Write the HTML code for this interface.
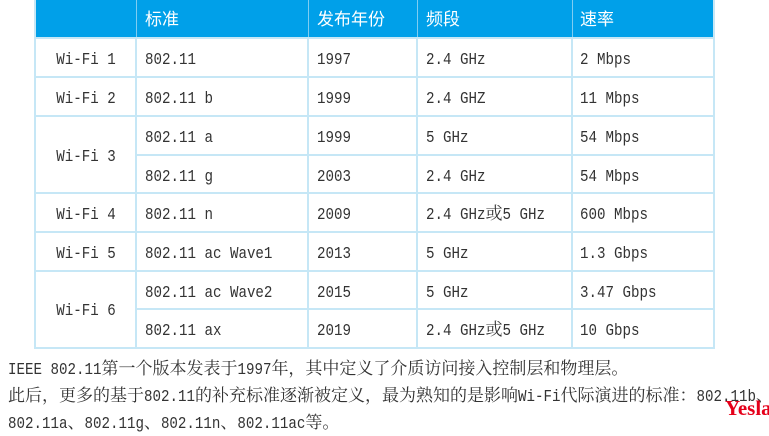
<!DOCTYPE html>
<html><head><meta charset="utf-8">
<style>
html,body{margin:0;padding:0;background:#fff;}
body{width:769px;height:432px;position:relative;overflow:hidden;}
.hd{position:absolute;top:0;height:38px;background:#00A0E9;}
.ht{position:absolute;top:1px;height:38px;line-height:38px;color:#fff;font-family:"Liberation Sans","Noto Sans CJK SC",sans-serif;font-size:17px;white-space:nowrap;}
.v{position:absolute;width:2px;background:#C6E7F6;}
.hv{position:absolute;width:1px;background:#7FCDF2;top:0;height:38px;}
.h{position:absolute;height:2px;background:#C6E7F6;}
.c{position:absolute;height:38px;line-height:38px;color:#333;white-space:nowrap;font-family:"Liberation Sans","Noto Serif CJK SC",serif;font-size:17px;}
.m{display:inline-block;font-family:"Liberation Mono",monospace;font-size:14.17px;line-height:1;transform:scaleY(1.2);transform-origin:50% 77%;white-space:pre;}
.p{position:absolute;left:8px;height:27px;line-height:27px;color:#333;white-space:nowrap;font-family:"Liberation Serif","Noto Serif CJK SC",serif;font-size:17px;}
.wm{position:absolute;left:725px;top:396px;font-family:"Liberation Serif",serif;font-weight:bold;font-size:21px;color:#E5001A;}
</style></head><body>

<!-- header -->
<div class="hd" style="left:35px;width:680px;"></div>
<div class="hv" style="left:136px;"></div>
<div class="hv" style="left:308px;"></div>
<div class="hv" style="left:417px;"></div>
<div class="hv" style="left:572px;"></div>
<div class="ht" style="left:145px;">标准</div>
<div class="ht" style="left:317px;">发布年份</div>
<div class="ht" style="left:426px;">频段</div>
<div class="ht" style="left:580px;">速率</div>

<!-- vertical lines -->
<div class="v" style="left:34px;top:0;height:349px;"></div>
<div class="v" style="left:135px;top:38px;height:311px;"></div>
<div class="v" style="left:307px;top:38px;height:311px;"></div>
<div class="v" style="left:416px;top:38px;height:311px;"></div>
<div class="v" style="left:571px;top:38px;height:311px;"></div>
<div class="v" style="left:713px;top:0;height:349px;"></div>

<!-- horizontal lines -->
<div class="h" style="left:35px;width:680px;top:37px;"></div>
<div class="h" style="left:35px;width:680px;top:76px;"></div>
<div class="h" style="left:35px;width:680px;top:115px;"></div>
<div class="h" style="left:136px;width:579px;top:154px;"></div>
<div class="h" style="left:35px;width:680px;top:192px;"></div>
<div class="h" style="left:35px;width:680px;top:231px;"></div>
<div class="h" style="left:35px;width:680px;top:270px;"></div>
<div class="h" style="left:136px;width:579px;top:308px;"></div>
<div class="h" style="left:35px;width:680px;top:347px;"></div>

<!-- column 1 -->
<div class="c" style="left:36px;width:100px;text-align:center;top:40px;"><span class="m">Wi-Fi 1</span></div>
<div class="c" style="left:36px;width:100px;text-align:center;top:79px;"><span class="m">Wi-Fi 2</span></div>
<div class="c" style="left:36px;width:100px;text-align:center;top:137px;"><span class="m">Wi-Fi 3</span></div>
<div class="c" style="left:36px;width:100px;text-align:center;top:195px;"><span class="m">Wi-Fi 4</span></div>
<div class="c" style="left:36px;width:100px;text-align:center;top:234px;"><span class="m">Wi-Fi 5</span></div>
<div class="c" style="left:36px;width:100px;text-align:center;top:291px;"><span class="m">Wi-Fi 6</span></div>

<!-- column 2 -->
<div class="c" style="left:145px;top:40px;"><span class="m">802.11</span></div>
<div class="c" style="left:145px;top:79px;"><span class="m">802.11 b</span></div>
<div class="c" style="left:145px;top:118px;"><span class="m">802.11 a</span></div>
<div class="c" style="left:145px;top:157px;"><span class="m">802.11 g</span></div>
<div class="c" style="left:145px;top:195px;"><span class="m">802.11 n</span></div>
<div class="c" style="left:145px;top:234px;"><span class="m">802.11 ac Wave1</span></div>
<div class="c" style="left:145px;top:273px;"><span class="m">802.11 ac Wave2</span></div>
<div class="c" style="left:145px;top:311px;"><span class="m">802.11 ax</span></div>

<!-- column 3 -->
<div class="c" style="left:317px;top:40px;"><span class="m">1997</span></div>
<div class="c" style="left:317px;top:79px;"><span class="m">1999</span></div>
<div class="c" style="left:317px;top:118px;"><span class="m">1999</span></div>
<div class="c" style="left:317px;top:157px;"><span class="m">2003</span></div>
<div class="c" style="left:317px;top:195px;"><span class="m">2009</span></div>
<div class="c" style="left:317px;top:234px;"><span class="m">2013</span></div>
<div class="c" style="left:317px;top:273px;"><span class="m">2015</span></div>
<div class="c" style="left:317px;top:311px;"><span class="m">2019</span></div>

<!-- column 4 -->
<div class="c" style="left:426px;top:40px;"><span class="m">2.4 GHz</span></div>
<div class="c" style="left:426px;top:79px;"><span class="m">2.4 GHZ</span></div>
<div class="c" style="left:426px;top:118px;"><span class="m">5 GHz</span></div>
<div class="c" style="left:426px;top:157px;"><span class="m">2.4 GHz</span></div>
<div class="c" style="left:426px;top:195px;"><span class="m">2.4 GHz</span>或<span class="m">5 GHz</span></div>
<div class="c" style="left:426px;top:234px;"><span class="m">5 GHz</span></div>
<div class="c" style="left:426px;top:273px;"><span class="m">5 GHz</span></div>
<div class="c" style="left:426px;top:311px;"><span class="m">2.4 GHz</span>或<span class="m">5 GHz</span></div>

<!-- column 5 -->
<div class="c" style="left:580px;top:40px;"><span class="m">2 Mbps</span></div>
<div class="c" style="left:580px;top:79px;"><span class="m">11 Mbps</span></div>
<div class="c" style="left:580px;top:118px;"><span class="m">54 Mbps</span></div>
<div class="c" style="left:580px;top:157px;"><span class="m">54 Mbps</span></div>
<div class="c" style="left:580px;top:195px;"><span class="m">600 Mbps</span></div>
<div class="c" style="left:580px;top:234px;"><span class="m">1.3 Gbps</span></div>
<div class="c" style="left:580px;top:273px;"><span class="m">3.47 Gbps</span></div>
<div class="c" style="left:580px;top:311px;"><span class="m">10 Gbps</span></div>

<!-- paragraphs -->
<div class="p" style="top:355px;"><span class="m">IEEE 802.11</span>第一个版本发表于<span class="m">1997</span>年，其中定义了介质访问接入控制层和物理层。</div>
<div class="p" style="top:382px;">此后，更多的基于<span class="m">802.11</span>的补充标准逐渐被定义，最为熟知的是影响<span class="m">Wi-Fi</span>代际演进的标准：<span class="m">802.11b</span>、</div>
<div class="p" style="top:409px;"><span class="m">802.11a</span>、<span class="m">802.11g</span>、<span class="m">802.11n</span>、<span class="m">802.11ac</span>等。</div>

<div class="wm">Yesla</div>
</body></html>
